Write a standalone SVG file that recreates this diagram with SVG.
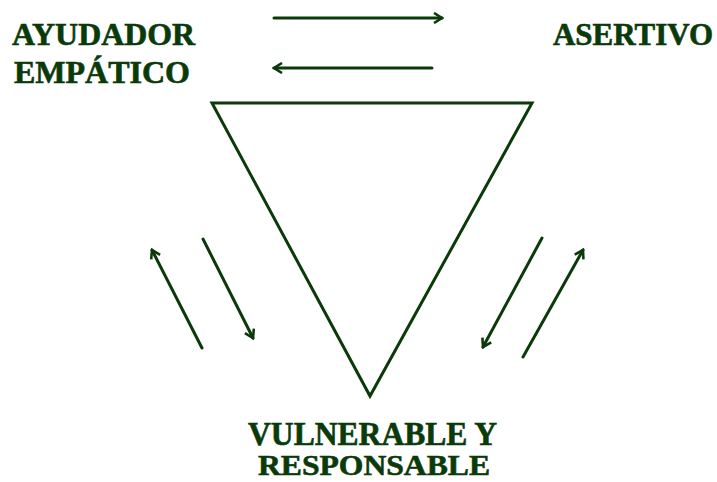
<svg xmlns="http://www.w3.org/2000/svg" width="717" height="482" viewBox="0 0 717 482">
  <style>
    .lbl { font-family: "Liberation Serif", "Times New Roman", serif; font-weight: bold; fill: #0a3a0a; stroke: #0a3a0a; stroke-width: 0.6; }
    .ln { stroke: #0a3a0a; stroke-width: 3; fill: none; stroke-linecap: round; }
  </style>
  <defs>
    <marker id="ah" viewBox="0 0 12 12" refX="10" refY="6" markerWidth="12" markerHeight="12" markerUnits="userSpaceOnUse" orient="auto">
      <path d="M2,1 L10,6 L2,11" fill="none" stroke="#0a3a0a" stroke-width="2.6" stroke-linejoin="miter"/>
    </marker>
  </defs>
  <rect width="717" height="482" fill="#ffffff"/>

  <g id="ayudador">
    <text class="lbl" x="12" y="45" font-size="31" textLength="183" lengthAdjust="spacingAndGlyphs">AYUDADOR</text>
    <text class="lbl" x="14" y="83" font-size="31" textLength="176" lengthAdjust="spacingAndGlyphs">EMPÁTICO</text>
  </g>
  <g id="asertivo">
    <text class="lbl" x="553" y="45" font-size="31" textLength="160" lengthAdjust="spacingAndGlyphs">ASERTIVO</text>
  </g>
  <g id="vulnerable">
    <text class="lbl" x="248" y="445" font-size="33" textLength="249" lengthAdjust="spacingAndGlyphs">VULNERABLE Y</text>
    <text class="lbl" x="258" y="475" font-size="29" textLength="232" lengthAdjust="spacingAndGlyphs">RESPONSABLE</text>
  </g>
  <g id="triangle">
    <polygon points="212,103 532,103 370,396" fill="none" stroke="#0a3a0a" stroke-width="3" stroke-linejoin="miter"/>
  </g>

  <g id="connectors">
    <line class="ln" x1="274" y1="18" x2="442" y2="18" marker-end="url(#ah)"/>
    <line class="ln" x1="432" y1="68" x2="274" y2="68" marker-end="url(#ah)"/>
    <line class="ln" x1="202" y1="348" x2="152" y2="250" marker-end="url(#ah)"/>
    <line class="ln" x1="203" y1="239" x2="253" y2="338" marker-end="url(#ah)"/>
    <line class="ln" x1="542" y1="238" x2="483" y2="347" marker-end="url(#ah)"/>
    <line class="ln" x1="523" y1="357" x2="583" y2="250" marker-end="url(#ah)"/>
  </g>
</svg>
